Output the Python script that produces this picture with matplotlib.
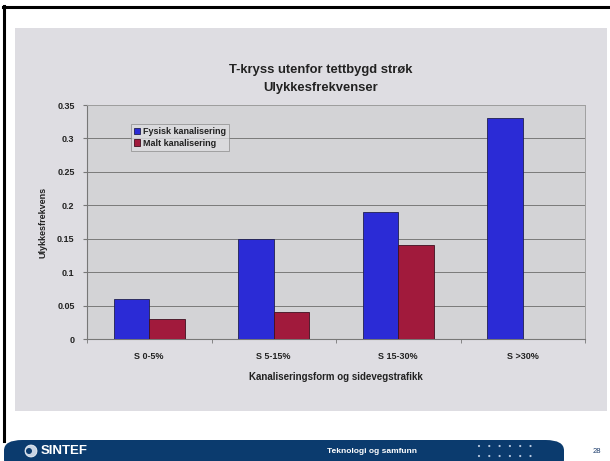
import numpy as np
import matplotlib.pyplot as plt
from matplotlib.patches import Rectangle, FancyBboxPatch, Ellipse

# data
categories = ['S 0-5%', 'S 5-15%', 'S 15-30%', 'S >30%']
fysisk = [0.06, 0.15, 0.19, 0.33]
malt = [0.03, 0.04, 0.14, np.nan]
yticks = [0, 0.05, 0.1, 0.15, 0.2, 0.25, 0.3, 0.35]
ytick_labels = ['0', '0.05', '0.1', '0.15', '0.2', '0.25', '0.3', '0.35']

plt.rcParams['font.family'] = ['Liberation Sans', 'DejaVu Sans']

fig = plt.figure(figsize=(6.10, 4.61), dpi=100)
fig.patch.set_facecolor('white')
W, H = 610, 461

def fx(x):
    return x / W

def fy(y):
    return 1 - y / H

def dot(x, y, r, **kw):
    # round dot in pixel units
    return Ellipse((fx(x), fy(y)), 2 * r / W, 2 * r / H, **kw)

# slide frame
fig.add_artist(plt.Line2D([fx(3), fx(610)], [fy(7), fy(7)], color='black', lw=2.2))
fig.add_artist(plt.Line2D([fx(4), fx(4)], [fy(6), fy(441)], color='black', lw=2.2))
# grey photo area
fig.add_artist(Rectangle((fx(15), fy(411)), fx(592), (411 - 28) / H,
                         facecolor='#dedde2', edgecolor='none', zorder=0))

# footer band
band = FancyBboxPatch((fx(4), fy(470)), fx(560), 30 / H,
                      boxstyle='round,pad=0,rounding_size=0.03',
                      facecolor='#0b3b6e', edgecolor='none', mutation_aspect=H / W)
fig.add_artist(band)
fig.add_artist(dot(31, 451, 6, facecolor='#c8d4e4', edgecolor='white', lw=0.5))
fig.add_artist(dot(29, 451, 3, facecolor='#0b3b6e', edgecolor='none'))
fig.text(fx(41), fy(451), 'SINTEF', color='white', fontsize=9.5, fontweight='bold', va='center')
fig.text(fx(372), fy(451), 'Teknologi og samfunn', color='white', fontsize=6, fontweight='bold',
         ha='center', va='center')
for row in [446, 456]:
    for i in range(6):
        fig.add_artist(dot(479 + i * 10.3, row, 1.1, facecolor='#b8c8e0', edgecolor='none'))
fig.text(fx(597), fy(451), '28', color='#1a3a6a', fontsize=5.5, ha='center', va='center')

# chart
ax = fig.add_axes([fx(87), fy(339), fx(498), 234 / H])
ax.set_facecolor('#d3d3d6')
x = np.arange(len(categories))
w = 0.285
ax.bar(x - w / 2, fysisk, w, color='#2b2bd6', edgecolor='#202050', lw=0.6, label='Fysisk kanalisering', zorder=3)
ax.bar(x + w / 2, malt, w, color='#a11a3c', edgecolor='#401020', lw=0.6, label='Malt kanalisering', zorder=3)

ax.set_xlim(-0.5, len(categories) - 0.5)
ax.set_ylim(0, 0.35)
ax.set_yticks(yticks)
ax.set_yticklabels(ytick_labels, fontsize=6.5, fontweight='bold', color='#222222')
ax.set_xticks(x)
ax.set_xticklabels(categories, fontsize=6.5, fontweight='bold', color='#222222')
ax.set_xticks(np.arange(-0.5, len(categories), 1), minor=True)
ax.tick_params(axis='x', which='major', length=0, pad=9)
ax.tick_params(axis='x', which='minor', length=3, color='#777777')
ax.tick_params(axis='y', length=3, color='#777777', pad=6)
ax.grid(axis='y', color='#7a7a7a', lw=0.7, zorder=1)
for side in ['top', 'right']:
    ax.spines[side].set_color('#a0a0a0')
    ax.spines[side].set_linewidth(0.7)
for side in ['left', 'bottom']:
    ax.spines[side].set_color('#777777')
    ax.spines[side].set_linewidth(0.8)

ax.set_ylabel('Ulykkesfrekvens', fontsize=6.5, fontweight='bold', color='#222222', labelpad=7)
ax.set_xlabel('Kanaliseringsform og sidevegstrafikk', fontsize=7, fontweight='bold', color='#222222', labelpad=8)

fig.text(fx(321), fy(70), 'T-kryss utenfor tettbygd strøk', fontsize=9.4, fontweight='bold',
         ha='center', va='center', color='#222222')
fig.text(fx(321), fy(88), 'Ulykkesfrekvenser', fontsize=9.4, fontweight='bold',
         ha='center', va='center', color='#222222')

leg = ax.legend(loc='upper left', bbox_to_anchor=(0.088, 0.92), fontsize=6.5, frameon=True,
                fancybox=False, borderpad=0.35, handlelength=0.7, handletextpad=0.3,
                labelspacing=0.3, borderaxespad=0)
leg.get_frame().set_facecolor('#dcdce0')
leg.get_frame().set_edgecolor('#888888')
leg.get_frame().set_linewidth(0.6)
for t in leg.get_texts():
    t.set_fontweight('bold')
    t.set_color('#222222')

fig.savefig('out.png', dpi=100)
